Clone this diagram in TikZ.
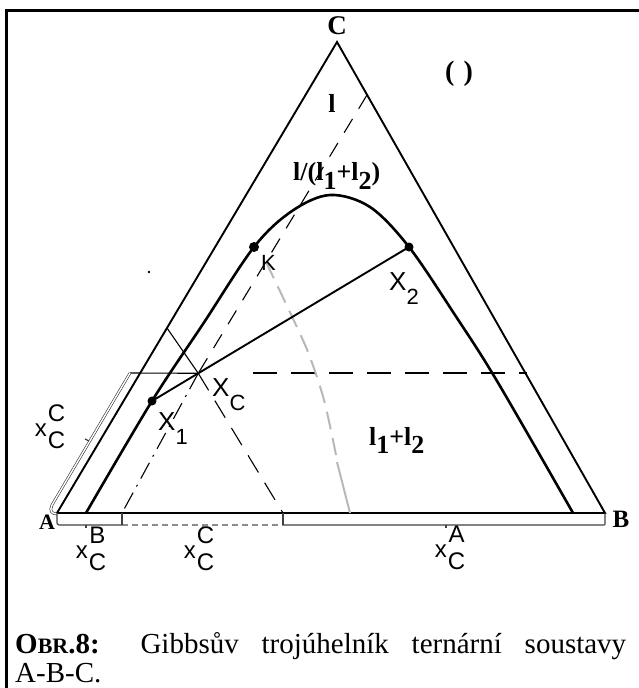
\documentclass[tikz,border=0pt]{standalone}
\usepackage{fontspec}
\usetikzlibrary{calc}
\setmainfont{Liberation Serif}
\newfontfamily\arialf{Liberation Sans}
\newcommand\xlab[2]{x\kern1pt\begin{tabular}{@{}c@{}}#1\\#2\end{tabular}}
\newcommand\Xlab[1]{X\raisebox{-14pt}{\fontsize{22}{22}\selectfont #1}}
\tikzset{
  frame/.style={line width=3pt},
  tri/.style={line width=1.9pt},
  bino/.style={line width=2.6pt, line join=round, line cap=round},
  tie/.style={line width=1.9pt},
  auxsolid/.style={line width=1.1pt},
  auxdash/.style={line width=1.1pt, dash pattern=on 16pt off 12pt},
  auxdd/.style={line width=1.1pt, dash pattern=on 18pt off 7pt on 2pt off 7pt},
  hdash/.style={line width=1.3pt, dash pattern=on 24pt off 14pt},
  greyd/.style={line width=2pt, color=black!28, dash pattern=on 18pt off 9pt},
  greys/.style={line width=2pt, color=black!28},
  brk/.style={double, double distance=1.4pt, line width=0.6pt, draw=black!80},
  strip/.style={line width=1.2pt, draw=black!75},
  stripd/.style={line width=1.4pt, draw=black!45, dash pattern=on 6pt off 4pt},
  ptdot/.style={circle, fill=black, inner sep=0pt, minimum size=9pt},
  xl/.style={font=\arialf\fontsize{24}{27}\selectfont, inner sep=0pt},
  Xl/.style={font=\arialf\fontsize{26}{26}\selectfont, inner sep=0pt, anchor=base west},
  sl/.style={font=\bfseries\fontsize{26}{26}\selectfont, inner sep=0pt},
  captext/.style={anchor=base west, inner sep=0pt, font=\fontsize{29}{29}\selectfont},
}
\begin{document}
\begin{tikzpicture}[x=1pt,y=-1pt]
\useasboundingbox (0,0) rectangle (639,688);
% frame
\draw[frame] (6,690) -- (6,10) -- (641,10);
% vertices
\coordinate (A) at (57,513);
\coordinate (B) at (605,513);
\coordinate (C) at (337,42);
\draw[tri] (A) -- (C) -- (B) -- cycle;
\node[font=\bfseries\fontsize{22}{22}\selectfont, inner sep=0pt] (lA) at (47,522) {A};
\node[font=\bfseries\fontsize{25}{25}\selectfont, inner sep=0pt] (lB) at (621,519) {B};
\node[font=\bfseries\fontsize{27}{27}\selectfont, inner sep=0pt] (lC) at (337,26) {C};
% points
\coordinate (X1) at (152,401);
\coordinate (X2) at (409,247);
\coordinate (K) at (254,247);
\coordinate (XC) at ($(X1)!0.18!(X2)$);
% auxiliary lines
\coordinate (P1) at (367,95);
\coordinate (Q1) at (122,513);
\coordinate (P2) at (167,328);
\coordinate (Q2) at (283,513);
\draw[auxdash] (P1) -- (XC);
\draw[auxdd] (XC) -- (Q1);
\draw[auxsolid] (P2) -- (XC);
\draw[auxdash, dash pattern=on 20pt off 12pt] (XC) -- (Q2);
\coordinate (H0) at (130,373);
\coordinate (H1) at (253,373);
\coordinate (H2) at (527,373);
\draw[auxsolid] (H0) -- (XC);
\draw[hdash] (H1) -- (H2);
% grey line
\draw[greyd] plot[smooth] coordinates {(266,262) (287,306) (308,352) (324,400) (336,455)};
\draw[greys] (337,462) -- (350,513);
% binodal
\draw[bino] plot[smooth, tension=0.55] coordinates {(86,513) (152,401) (203,324) (254,247) (292,211) (330,195) (370,207) (409,247) (455,315) (497,381) (573,513)};
% tie line
\draw[tie] (X1) -- (X2);
\node[ptdot] (dX1) at (X1) {};
\node[ptdot] (dX2) at (X2) {};
\node[ptdot, minimum size=10pt] (dK) at (K) {};
\fill (149,272) circle (1.3pt);
% left bracket
\draw[brk] (H0) -- (52,505) .. controls (49,511) and (52,514) .. (57,514);
\draw[strip] (89,441) -- (85,439);
% base strip
\draw[strip] (57,513) -- (57,522) .. controls (57,524) .. (59,525) -- (122,525);
\draw[stripd] (122,525) -- (283,525);
\draw[strip] (283,525) -- (603,525) .. controls (605,525) .. (605,523) -- (605,513);
\draw[strip] (122,513) -- (122,525);
\draw[strip] (283,513) -- (283,525);
\draw[strip] (86,525) -- (86,528);
\draw[stripd, dash pattern=] (203,525) -- (203,528);
\draw[strip] (446,525) -- (446,528);
% x labels
\node[xl] (xB) at (91,552) {\xlab{B}{C}};
\node[xl] (xCb) at (199,552) {\xlab{C}{C}};
\node[xl] (xA) at (450,551) {\xlab{A}{C}};
\node[xl] (xCl) at (50,430) {\xlab{C}{C}};
% X labels
\node[Xl] (lX1) at (158,430) {\Xlab{1}};
\node[Xl] (lX2) at (389,290) {\Xlab{2}};
\node[Xl] (lXC) at (212,396) {\Xlab{C}};
\node[Xl, font=\arialf\fontsize{22}{22}\selectfont] (lK) at (261,270) {K};
% region labels
\node[sl] (l1) at (332,103) {l};
\node[sl, font=\bfseries\fontsize{28}{28}\selectfont] (par) at (459,74) {(\,\,)};
\node[sl, anchor=base west] (lfrac) at (293,180) {l/(l\raisebox{-9pt}{1}+l\raisebox{-9pt}{2})};
\node[sl, anchor=base west] (l12) at (369,445) {l\raisebox{-8pt}{1}+l\raisebox{-8pt}{2}};
% caption
\node[captext] (cap1) at (15,653)
  {\makebox[611pt][s]{\textbf{O{\fontsize{22}{22}\selectfont BR}.8:} Gibbsův trojúhelník ternární soustavy}};
\node[captext] (cap2) at (15,682) {A-B-C.};
\end{tikzpicture}
\end{document}
